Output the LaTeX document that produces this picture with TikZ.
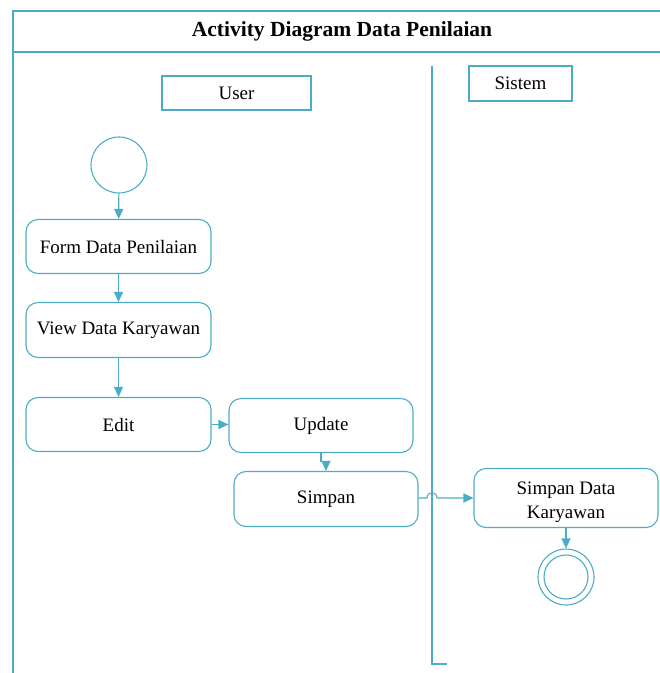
\documentclass[tikz,border=0pt]{standalone}
\usepackage{fontspec}
\setmainfont{Liberation Serif}
\usetikzlibrary{arrows.meta}
\definecolor{uml}{RGB}{75,172,198}
\begin{document}
\begin{tikzpicture}[x=1pt,y=-1pt,
  line width=1.1pt,
  act/.style={draw=uml,rounded corners=12pt,minimum width=#1,inner sep=0pt,align=center,font=\fontsize{19}{23}\selectfont},
  lane/.style={draw=uml,inner sep=0pt,font=\fontsize{19}{23}\selectfont},
  flow/.style={draw=uml,-{Triangle[length=10pt,width=9pt]}},
  frame/.style={draw=uml}]
\useasboundingbox (0,0) rectangle (660,673);
% frame
\coordinate (tl) at (13,11);
\coordinate (tr) at (661,11);
\coordinate (bl) at (13,674);
\coordinate (ml) at (13,52);
\coordinate (mr) at (661,52);
\draw[frame,line width=1.3pt] (tr) -- (tl) -- (bl);
\draw[frame] (ml) -- (mr);
\node[font=\bfseries\fontsize{21.5}{25}\selectfont] (title) at (342,31.5) {Activity Diagram Data Penilaian};
% swimlane separator
\coordinate (s1) at (432,66);
\coordinate (s2) at (432,664);
\coordinate (s3) at (447,664);
\draw[frame] (s1) -- (s2) -- (s3);
% lane headers
\node[lane,minimum width=149pt,minimum height=34pt] (user) at (236.5,93) {User};
\node[lane,minimum width=103pt,minimum height=35pt] (sistem) at (520.5,83.5) {Sistem};
% start
\node[draw=uml,circle,minimum size=56pt,inner sep=0pt] (start) at (119,165) {};
% activities
\node[act=185pt,minimum height=54pt] (form) at (118.5,246.5) {Form Data Penilaian};
\node[act=185pt,minimum height=55pt] (view) at (118.5,330) {View Data Karyawan};
\node[act=185pt,minimum height=54pt] (edit) at (118.5,424.5) {Edit};
\node[act=184pt,minimum height=54pt] (update) at (321,425.5) {Update};
\node[act=184pt,minimum height=55pt] (simpan) at (326,499) {Simpan};
\node[act=184pt,minimum height=59pt] (sd) at (566,498) {\raisebox{-8.5pt}[0pt][0pt]{\fontsize{19}{24}\selectfont\begin{tabular}{@{}c@{}}Simpan Data\\Karyawan\end{tabular}}};
% end
\node[draw=uml,circle,minimum size=56pt,inner sep=0pt] (end) at (566,577) {};
\node[draw=uml,circle,minimum size=44pt,inner sep=0pt] (endin) at (566,577) {};
% flows
\draw[flow] (start) -- (form);
\draw[flow] (form) -- (view);
\draw[flow] (view) -- (edit);
\draw[flow] (edit) -- (update.west |- edit);
\draw[flow] (update.south) -- ++(0,8) -| (simpan.north);
\coordinate (h1) at (427,498);
\coordinate (h2) at (437,498);
\draw[flow] (simpan.east |- h1) -- (h1) .. controls (427,491) and (437,491) .. (h2) -- (sd.west |- h2);
\draw[flow] (sd) -- (end);
\end{tikzpicture}
\end{document}
